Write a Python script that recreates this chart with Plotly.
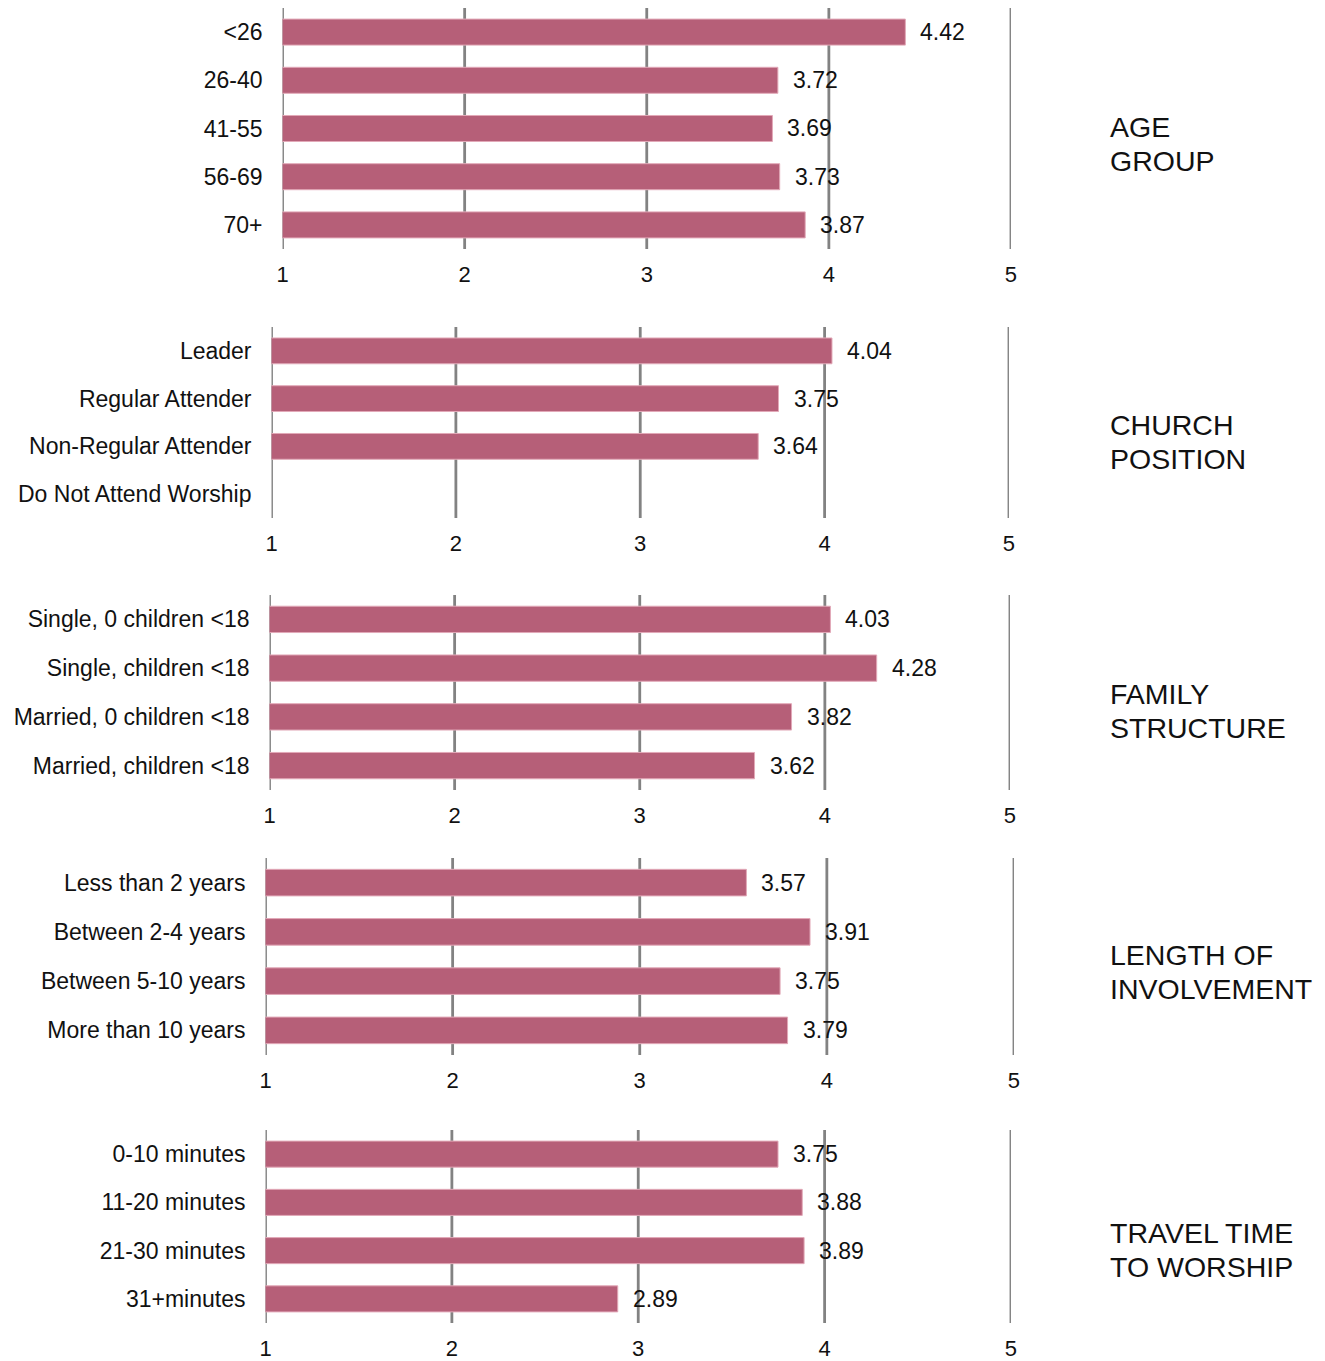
import plotly.graph_objects as go

W, H = 1325, 1361
FONT = "Liberation Sans, Arial, sans-serif"
BAR_COLOR = "#B65F78"
BAR_EDGE = "#E2A9B8"
GRID_COLOR = "#828282"

TICKS = [1, 2, 3, 4, 5]

age_cats = ["<26", "26-40", "41-55", "56-69", "70+"]
age_vals = [4.42, 3.72, 3.69, 3.73, 3.87]

church_cats = ["Leader", "Regular Attender", "Non-Regular Attender", "Do Not Attend Worship"]
church_vals = [4.04, 3.75, 3.64, None]

family_cats = ["Single, 0 children <18", "Single, children <18", "Married, 0 children <18", "Married, children <18"]
family_vals = [4.03, 4.28, 3.82, 3.62]

length_cats = ["Less than 2 years", "Between 2-4 years", "Between 5-10 years", "More than 10 years"]
length_vals = [3.57, 3.91, 3.75, 3.79]

travel_cats = ["0-10 minutes", "11-20 minutes", "21-30 minutes", "31+minutes"]
travel_vals = [3.75, 3.88, 3.89, 2.89]

titles = [
    ["AGE", "GROUP"],
    ["CHURCH", "POSITION"],
    ["FAMILY", "STRUCTURE"],
    ["LENGTH OF", "INVOLVEMENT"],
    ["TRAVEL TIME", "TO WORSHIP"],
]

panels = [
    (age_cats, age_vals),
    (church_cats, church_vals),
    (family_cats, family_vals),
    (length_cats, length_vals),
    (travel_cats, travel_vals),
]

# layout geometry (pixels): x-left, x-right, y-top, y-bottom, title center y
geom = [
    (283, 1010, 8, 249, 144),
    (272, 1008, 327, 518, 442),
    (270, 1009, 595, 790, 711),
    (266, 1013, 858, 1055, 972),
    (266, 1010, 1130, 1323, 1250),
]


def fx(px):
    # small horizontal correction for the capture's framing
    return ((px - 7) / 0.989) / W


def fy(py):
    return 1 - py / H


fig = go.Figure()
annotations = []
shapes = []

for i, ((cats, vals), (xl, xr, yt, yb, ty)) in enumerate(zip(panels, geom)):
    n = i + 1
    xa = "x" if n == 1 else f"x{n}"
    ya = "y" if n == 1 else f"y{n}"
    idx = list(range(len(cats)))
    fig.add_trace(go.Bar(
        x=vals, y=idx, orientation="h", base=0,
        marker=dict(color=BAR_COLOR, line=dict(width=1, color=BAR_EDGE)),
        xaxis=xa, yaxis=ya, showlegend=False, hoverinfo="skip",
    ))
    xkey = "xaxis" if n == 1 else f"xaxis{n}"
    ykey = "yaxis" if n == 1 else f"yaxis{n}"
    fig.layout[xkey] = dict(
        domain=[fx(xl), fx(xr)], anchor=ya, range=[1, 5],
        tickvals=TICKS, ticktext=[str(t) for t in TICKS],
        showgrid=False, zeroline=False, showline=False, ticks="",
        ticklabelstandoff=10,
        tickfont=dict(family=FONT, size=22, color="#111111"),
    )
    fig.layout[ykey] = dict(
        domain=[fy(yb), fy(yt)], anchor=xa,
        range=[len(cats) - 0.5, -0.5],
        tickvals=idx, ticktext=cats,
        showgrid=False, zeroline=False, showline=False, ticks="",
        ticklabelstandoff=19,
        tickfont=dict(family=FONT, size=23, color="#111111"),
    )
    for t in TICKS:
        shapes.append(dict(
            type="line", xref=xa, yref=f"{ya} domain",
            x0=t, x1=t, y0=0, y1=1, layer="below",
            line=dict(color=GRID_COLOR, width=2.8),
        ))
    for j, v in enumerate(vals):
        if v is None:
            continue
        annotations.append(dict(
            x=v, y=j, xref=xa, yref=ya, text=f"{v:.2f}",
            showarrow=False, xanchor="left", yanchor="middle", xshift=13,
            font=dict(family=FONT, size=23, color="#111111"),
        ))
    for k, line in enumerate(titles[i]):
        annotations.append(dict(
            x=fx(1107), y=fy(ty), xref="paper", yref="paper",
            text=line, showarrow=False, xanchor="left", yanchor="middle",
            yshift=17 - 34 * k,
            align="left", font=dict(family=FONT, size=28.5, color="#111111"),
        ))

fig.update_layout(
    width=W, height=H, autosize=False,
    margin=dict(l=0, r=0, t=0, b=0),
    paper_bgcolor="white", plot_bgcolor="white",
    bargap=0.46, showlegend=False,
    annotations=annotations, shapes=shapes,
    font=dict(family=FONT, size=22, color="#111111"),
)

fig.write_html(
    "out.html",
    config={"displayModeBar": False},
    post_script=(
        "document.documentElement.style.margin='0px';"
        "document.body.style.margin='0px';"
        "document.body.style.padding='0px';"
        "document.documentElement.style.overflow='hidden';"
    ),
)
